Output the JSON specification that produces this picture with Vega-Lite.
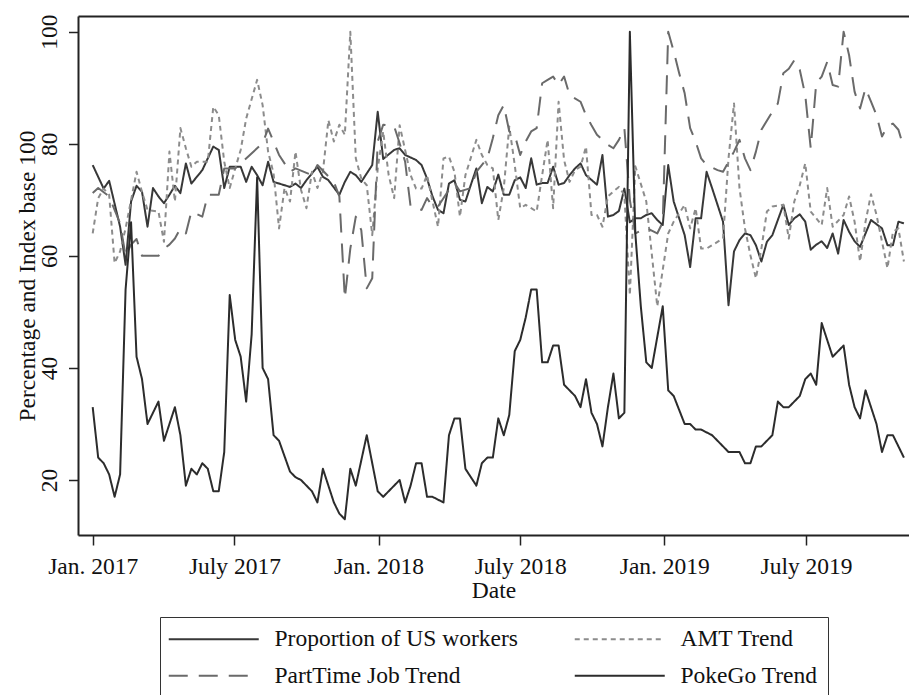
{
  "$schema": "https://vega.github.io/schema/vega-lite/v6.json",
  "autosize": {"type": "none"},
  "padding": {"left": 78, "top": 16, "right": 0, "bottom": 160},
  "width": 831,
  "height": 519,
  "background": "white",
  "config": {
    "view": {"stroke": null},
    "font": "Liberation Serif",
    "axis": {
      "labelFont": "Liberation Serif", "titleFont": "Liberation Serif",
      "labelColor": "#111", "titleColor": "#111",
      "labelFontSize": 23.5, "titleFontSize": 23.5, "titleFontWeight": "normal",
      "grid": false, "domainColor": "#222", "domainWidth": 2,
      "tickColor": "#222", "tickWidth": 1.5, "tickSize": 10,
      "labelFlush": false, "labelOverlap": false
    },
    "legend": {
      "labelFont": "Liberation Serif", "labelFontSize": 23.5, "labelColor": "#111",
      "labelLimit": 0
    }
  },
  "data": {"values": [
{"d":"2017-01-01","prop":76.2,"amt":64,"pt":71.2,"poke":33},
{"d":"2017-01-08","amt":70.3,"pt":72.1,"poke":24},
{"d":"2017-01-15","prop":72,"amt":72,"poke":23},
{"d":"2017-01-22","prop":73.4,"amt":70.9,"pt":70.6,"poke":21},
{"d":"2017-01-29","amt":58.7,"poke":17},
{"d":"2017-02-05","prop":65.2,"amt":60.8,"pt":65.8,"poke":21},
{"d":"2017-02-12","prop":58.4,"amt":64.9,"pt":60,"poke":54},
{"d":"2017-02-19","prop":69.7,"pt":62,"poke":66},
{"d":"2017-02-26","prop":72.5,"amt":75,"pt":63,"poke":42},
{"d":"2017-03-05","prop":71.4,"amt":71.4,"pt":60,"poke":38},
{"d":"2017-03-12","prop":65.2,"amt":68.2,"poke":30},
{"d":"2017-03-19","prop":72.1,"poke":32},
{"d":"2017-03-26","prop":70.6,"amt":67.9,"pt":60,"poke":34},
{"d":"2017-04-02","prop":69.4,"amt":62.5,"pt":61.3,"poke":27},
{"d":"2017-04-09","prop":70.9,"amt":78.6,"pt":62},
{"d":"2017-04-16","prop":72.5,"amt":69.7,"pt":63.1,"poke":33},
{"d":"2017-04-23","prop":71.2,"amt":82.8,"pt":64.9,"poke":28},
{"d":"2017-04-30","prop":76.5,"amt":79.2,"pt":64,"poke":19},
{"d":"2017-05-07","prop":72.9,"amt":75.9,"pt":67.9,"poke":22},
{"d":"2017-05-14","amt":76.8,"poke":21},
{"d":"2017-05-21","prop":75.3,"pt":67,"poke":23},
{"d":"2017-05-28","amt":76.8,"pt":70.9,"poke":22},
{"d":"2017-06-04","prop":79.5,"amt":86.6,"poke":18},
{"d":"2017-06-11","prop":78.9,"amt":85.1,"pt":70.9,"poke":18},
{"d":"2017-06-18","prop":72.1,"amt":76.8,"pt":75.6,"poke":25},
{"d":"2017-06-25","prop":75.9,"amt":72.1,"poke":53},
{"d":"2017-07-02","amt":75.6,"pt":75.6,"poke":45},
{"d":"2017-07-09","prop":75.9,"amt":78.9,"poke":42},
{"d":"2017-07-16","prop":73.2,"amt":84.5,"poke":34},
{"d":"2017-07-23","prop":75.9,"poke":46},
{"d":"2017-07-30","prop":74.4,"amt":91.4,"poke":74},
{"d":"2017-08-06","prop":72.6,"amt":86.9,"pt":80.1,"poke":40},
{"d":"2017-08-13","prop":76.8,"amt":78.6,"pt":82.7,"poke":38},
{"d":"2017-08-20","prop":73.2,"amt":74.7,"pt":80.4,"poke":28},
{"d":"2017-08-27","prop":72.9,"amt":64.9,"pt":78,"poke":27},
{"d":"2017-09-03","amt":72.1},
{"d":"2017-09-10","prop":72.3,"amt":69.7,"pt":75,"poke":21.5},
{"d":"2017-09-17","prop":72.9,"amt":78.6,"pt":75.6,"poke":20.5},
{"d":"2017-09-24","prop":72.1,"amt":71.8,"poke":20},
{"d":"2017-10-01","prop":73.5,"amt":68.5},
{"d":"2017-10-08","amt":75,"pt":74.4,"poke":18},
{"d":"2017-10-15","prop":75.9,"amt":72.1,"pt":76.2,"poke":16},
{"d":"2017-10-22","prop":74.1,"amt":75,"poke":22},
{"d":"2017-10-29","prop":73.5,"amt":84.2,"poke":19},
{"d":"2017-11-05","amt":80.4,"pt":73.2,"poke":16},
{"d":"2017-11-12","prop":70.9,"amt":83.4,"pt":70.6,"poke":14},
{"d":"2017-11-19","prop":73.2,"amt":81.6,"pt":52.4,"poke":13},
{"d":"2017-11-26","prop":75,"amt":100,"pt":61.3,"poke":22},
{"d":"2017-12-03","prop":74.4,"amt":77.4,"pt":67,"poke":19},
{"d":"2017-12-10","prop":73.2,"amt":73.8,"pt":64.6},
{"d":"2017-12-17","amt":72.6,"pt":54.2,"poke":28},
{"d":"2017-12-24","prop":76.2,"amt":63.7,"pt":56},
{"d":"2017-12-31","prop":85.7,"amt":75.6,"pt":80.4,"poke":18},
{"d":"2018-01-07","prop":77.3,"amt":82.2,"pt":83.4,"poke":17},
{"d":"2018-01-14","amt":74.4},
{"d":"2018-01-21","prop":78.9,"amt":70.3,"pt":83.1,"poke":19},
{"d":"2018-01-28","prop":79.2,"amt":83.3,"pt":80.1,"poke":20},
{"d":"2018-02-04","prop":78,"amt":78.9,"pt":76.8,"poke":16},
{"d":"2018-02-11","amt":74.4,"pt":68.8,"poke":19},
{"d":"2018-02-18","prop":77.1,"amt":72,"poke":23},
{"d":"2018-02-25","prop":76.2,"amt":72,"pt":68.2,"poke":23},
{"d":"2018-03-04","prop":73.8,"amt":74.4,"pt":70.3,"poke":17},
{"d":"2018-03-11","prop":70.6,"amt":69.7,"pt":68.8,"poke":17},
{"d":"2018-03-18","prop":68.2,"amt":65.2,"pt":68.8},
{"d":"2018-03-25","prop":67.6,"amt":77.4,"poke":16},
{"d":"2018-04-01","prop":72.9,"amt":77.7,"pt":71.8,"poke":28},
{"d":"2018-04-08","prop":73.5,"amt":75,"pt":73,"poke":31},
{"d":"2018-04-15","prop":70,"amt":67,"pt":71.5,"poke":31},
{"d":"2018-04-22","prop":69.7,"amt":74.4,"poke":22},
{"d":"2018-04-29","prop":72.7,"pt":72.1},
{"d":"2018-05-06","prop":75.6,"amt":80.7,"pt":75,"poke":19},
{"d":"2018-05-13","prop":69.4,"amt":78,"poke":23},
{"d":"2018-05-20","prop":72.3,"amt":76.2,"pt":77.4,"poke":24},
{"d":"2018-05-27","prop":71.5,"amt":75.6,"pt":81,"poke":24},
{"d":"2018-06-03","prop":74.5,"amt":66.4,"pt":85.1,"poke":31},
{"d":"2018-06-10","prop":70.9,"amt":72.1,"pt":86.9,"poke":28},
{"d":"2018-06-17","prop":70.9,"amt":83.1,"pt":82.2,"poke":31.6},
{"d":"2018-06-24","prop":73.5,"amt":76.2,"pt":81.6,"poke":43},
{"d":"2018-07-01","prop":74,"amt":68.5,"pt":78,"poke":45},
{"d":"2018-07-08","prop":72.1,"amt":69.1,"pt":80.4,"poke":49},
{"d":"2018-07-15","prop":77.4,"amt":68.5,"pt":82.2,"poke":54},
{"d":"2018-07-22","prop":72.7,"amt":67.9,"pt":82.8,"poke":54},
{"d":"2018-07-29","prop":73,"amt":74.4,"pt":90.8,"poke":41},
{"d":"2018-08-05","prop":73,"amt":80.7,"pt":91.4,"poke":41},
{"d":"2018-08-12","prop":75.9,"amt":68.5,"pt":92,"poke":44},
{"d":"2018-08-19","prop":72.7,"amt":87.5,"pt":90.5,"poke":44},
{"d":"2018-08-26","prop":73,"amt":77.1,"pt":92,"poke":37},
{"d":"2018-09-02","prop":74.4,"amt":73.2,"pt":88.7},
{"d":"2018-09-09","prop":75.6,"amt":75.3,"poke":35},
{"d":"2018-09-16","prop":76.5,"amt":75.9,"pt":87.5,"poke":33},
{"d":"2018-09-23","prop":74.4,"amt":79.5,"pt":85.1,"poke":38},
{"d":"2018-09-30","amt":67.3,"pt":83.3,"poke":32},
{"d":"2018-10-07","prop":72.7,"amt":67.3,"pt":81.6,"poke":30},
{"d":"2018-10-14","prop":78,"amt":65.2,"poke":26},
{"d":"2018-10-21","prop":67,"amt":70.6,"pt":79.8,"poke":33},
{"d":"2018-10-28","prop":67.3,"amt":71.5,"pt":79.2,"poke":39},
{"d":"2018-11-04","prop":68,"amt":72.3,"pt":80.7,"poke":31},
{"d":"2018-11-11","prop":72,"amt":70.9,"pt":82.8,"poke":32},
{"d":"2018-11-18","prop":66,"amt":53,"pt":70,"poke":100},
{"d":"2018-11-25","prop":66.7,"amt":76,"pt":64,"poke":64},
{"d":"2018-12-02","prop":66.7,"poke":51},
{"d":"2018-12-09","prop":67.3,"amt":69.7,"pt":65,"poke":41},
{"d":"2018-12-16","prop":67.6,"poke":40},
{"d":"2018-12-23","prop":66.4,"amt":51,"pt":64},
{"d":"2018-12-30","prop":65.5,"pt":66,"poke":51},
{"d":"2019-01-06","prop":76.2,"amt":64,"pt":100,"poke":36},
{"d":"2019-01-13","prop":69.7,"amt":66.1,"pt":96.5,"poke":35},
{"d":"2019-01-20","pt":92.6},
{"d":"2019-01-27","prop":63.7,"amt":69.1,"pt":89,"poke":30},
{"d":"2019-02-03","prop":58,"amt":64.9,"pt":82.8,"poke":30},
{"d":"2019-02-10","prop":66.7,"amt":68.5,"pt":80.4,"poke":29},
{"d":"2019-02-17","prop":66.7,"amt":61.3,"pt":77.4,"poke":29},
{"d":"2019-02-24","prop":75,"amt":61.3,"pt":76.2},
{"d":"2019-03-03","prop":72.1,"poke":28},
{"d":"2019-03-10","prop":69.1,"pt":75.3,"poke":27},
{"d":"2019-03-17","prop":66.1,"amt":63.1,"pt":75,"poke":26},
{"d":"2019-03-24","prop":51.2,"amt":77.4,"poke":25},
{"d":"2019-03-31","prop":60.8,"amt":87.2,"pt":78.6},
{"d":"2019-04-07","prop":62.8,"amt":72.1,"pt":80.7,"poke":25},
{"d":"2019-04-14","prop":64,"amt":64.9,"pt":77.4,"poke":23},
{"d":"2019-04-21","prop":63.7,"amt":60.1,"pt":75.3,"poke":23},
{"d":"2019-04-28","prop":61.9,"amt":56,"pt":78.6,"poke":26},
{"d":"2019-05-05","prop":59,"amt":61.3,"pt":82.5,"poke":26},
{"d":"2019-05-12","prop":62.5,"amt":67.9,"poke":27},
{"d":"2019-05-19","prop":63.7,"amt":68.8,"pt":85.7,"poke":28},
{"d":"2019-05-26","prop":66.4,"pt":87.2,"poke":34},
{"d":"2019-06-02","prop":69.1,"amt":69.1,"pt":92.6,"poke":33},
{"d":"2019-06-09","prop":65.5,"amt":63.1,"pt":93.4,"poke":33},
{"d":"2019-06-16","prop":66.7,"amt":69.7,"pt":94.9,"poke":34},
{"d":"2019-06-23","prop":67.4,"amt":72.6,"pt":93.2,"poke":35},
{"d":"2019-06-30","prop":66.1,"amt":76.5,"pt":88.7,"poke":38},
{"d":"2019-07-07","prop":61.1,"amt":67.9,"pt":79.2,"poke":39},
{"d":"2019-07-14","prop":62,"amt":66.7,"pt":90.8,"poke":37},
{"d":"2019-07-21","prop":62.6,"amt":65.5,"pt":92,"poke":48},
{"d":"2019-07-28","prop":61.4,"amt":72.1,"pt":94.6,"poke":45},
{"d":"2019-08-04","prop":64,"amt":65.2,"pt":90.5,"poke":42},
{"d":"2019-08-11","prop":60.4,"pt":90.2,"poke":43},
{"d":"2019-08-18","prop":66.4,"amt":67.3,"pt":100,"poke":44},
{"d":"2019-08-25","prop":64.3,"amt":70.6,"pt":95.8,"poke":37},
{"d":"2019-09-01","prop":62.6,"amt":66.1,"pt":89.3,"poke":33},
{"d":"2019-09-08","prop":61.6,"amt":59,"pt":86.3,"poke":31},
{"d":"2019-09-15","amt":66.1,"pt":89.9,"poke":36},
{"d":"2019-09-22","prop":66.4,"amt":71,"pt":87.5},
{"d":"2019-09-29","amt":67.3,"pt":85.1,"poke":30},
{"d":"2019-10-06","prop":64.9,"pt":81.3,"poke":25},
{"d":"2019-10-13","prop":61.9,"amt":57.8,"pt":83.1,"poke":28},
{"d":"2019-10-20","prop":61.9,"amt":64.3,"pt":83.6,"poke":28},
{"d":"2019-10-27","prop":66.1,"amt":64.9,"pt":82.5},
{"d":"2019-11-03","prop":65.8,"amt":59,"pt":79.2,"poke":24}
  ]},
  "transform": [
    {"fold": ["prop", "amt", "pt", "poke"], "as": ["series", "value"]},
    {"filter": "isValid(datum.value)"}
  ],
  "encoding": {
    "y": {
      "field": "value", "type": "quantitative",
      "scale": {"domain": [10.19, 102.8], "nice": false, "zero": false},
      "axis": {
        "values": [20, 40, 60, 80, 100],
        "labelAngle": 270, "labelAlign": "center", "labelBaseline": "alphabetic",
        "labelPadding": 12, "tickSize": 9.5,
        "title": "Percentage and Index base 100",
        "titleAngle": 270, "titleAlign": "center", "titleBaseline": "middle",
        "titleX": -51, "titleY": 259.5
      }
    },
    "color": {
      "field": "series", "type": "nominal",
      "scale": {"domain": ["prop", "pt", "amt", "poke"], "range": ["#383838", "#6a6a6a", "#8c8c8c", "#2c2c2c"]},
      "legend": {
        "title": null, "orient": "none", "legendX": 82, "legendY": 601,
        "columns": 2, "strokeColor": "#333", "padding": 10,
        "symbolType": "M-9,0H9", "symbolSize": 100, "symbolStrokeWidth": 2,
        "symbolOffset": 32, "labelOffset": 49, "labelBaseline": "middle",
        "rowPadding": 12, "columnPadding": 52,
        "labelExpr": "datum.label == 'prop' ? 'Proportion of US workers' : datum.label == 'amt' ? 'AMT Trend' : datum.label == 'pt' ? 'PartTime Job Trend' : 'PokeGo Trend'"
      }
    },
    "strokeDash": {
      "field": "series", "type": "nominal",
      "scale": {"domain": ["prop", "pt", "amt", "poke"], "range": [[1, 0], [19, 11], [5, 4], [1, 0]]},
      "legend": {
        "title": null, "orient": "none", "legendX": 82, "legendY": 601,
        "columns": 2, "strokeColor": "#333", "padding": 10,
        "symbolType": "M-9,0H9", "symbolSize": 100, "symbolStrokeWidth": 2,
        "symbolOffset": 32, "labelOffset": 49, "labelBaseline": "middle",
        "rowPadding": 12, "columnPadding": 52,
        "labelExpr": "datum.label == 'prop' ? 'Proportion of US workers' : datum.label == 'amt' ? 'AMT Trend' : datum.label == 'pt' ? 'PartTime Job Trend' : 'PokeGo Trend'"
      }
    }
  },
  "layer": [
    {
      "mark": {"type": "line", "strokeWidth": 2, "strokeJoin": "round"},
      "encoding": {
        "x": {
          "field": "d", "type": "temporal",
          "scale": {"type": "utc", "domain": [1481607072000, 1573300800000], "nice": false},
          "axis": {
            "orient": "bottom",
            "values": [1483228800000, 1498867200000, 1514764800000, 1530403200000, 1546300800000, 1561939200000],
            "labelExpr": "utcmonth(datum.value) == 0 ? 'Jan. ' + utcyear(datum.value) : 'July ' + utcyear(datum.value)",
            "labelPadding": 9, "labelBaseline": "top",
            "title": "Date", "titleBaseline": "alphabetic", "titleY": 62
          }
        }
      }
    },
    {
      "mark": {"type": "line", "opacity": 0},
      "encoding": {
        "x": {
          "field": "d", "type": "temporal",
          "scale": {"type": "utc", "domain": [1481607072000, 1573300800000], "nice": false},
          "axis": {"orient": "top", "labels": false, "ticks": false, "title": null, "domain": true}
        }
      }
    }
  ],
  "resolve": {"axis": {"x": "independent"}}
}
